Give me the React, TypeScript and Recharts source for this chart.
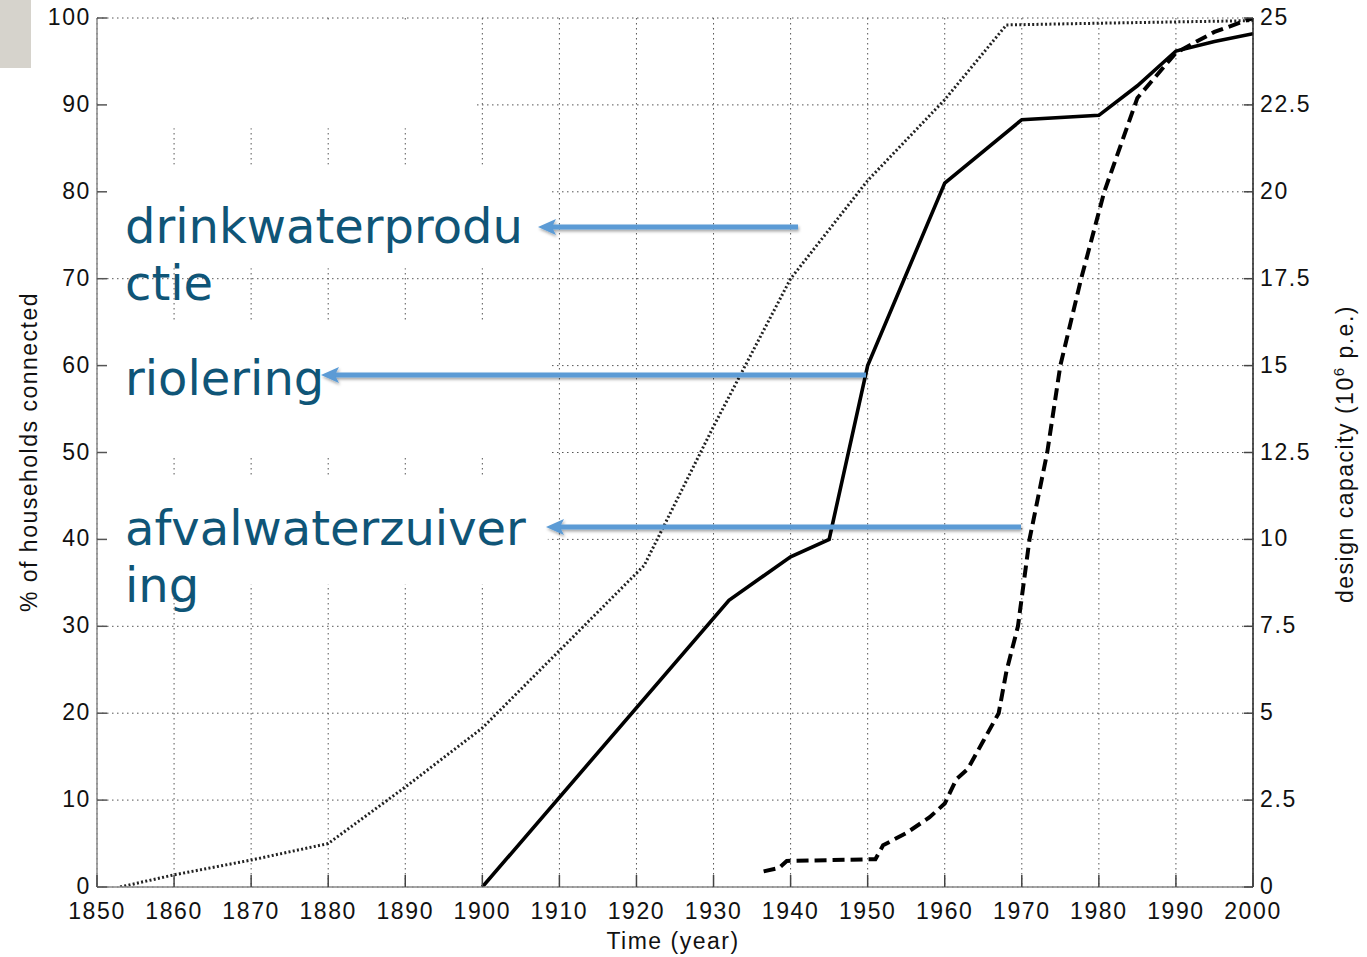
import React from 'react';
import { LineChart, Line, XAxis, YAxis, CartesianGrid, ReferenceArea } from 'recharts';

// ---- axis ticks ----
const yearTicks = [1850, 1860, 1870, 1880, 1890, 1900, 1910, 1920, 1930, 1940, 1950, 1960, 1970, 1980, 1990, 2000];
const leftTicks = [0, 10, 20, 30, 40, 50, 60, 70, 80, 90, 100];
const rightTicks = [0, 2.5, 5, 7.5, 10, 12.5, 15, 17.5, 20, 22.5, 25];

// ---- series: drinking water production (% households, dotted) ----
const drinkYears = [1853, 1860, 1870, 1880, 1890, 1900, 1910, 1921, 1930, 1940, 1950, 1960, 1968, 1980, 2000];
const drinkValues = [0, 1.4, 3.1, 5.0, 11.5, 18.3, 27.2, 37, 53, 70, 81.3, 90.6, 99.2, 99.4, 99.7];

// ---- series: sewerage (% households, solid) ----
const sewerYears = [1900, 1932, 1940, 1945, 1950, 1960, 1970, 1980, 1985, 1990, 1995, 2000];
const sewerValues = [0, 33, 38, 40, 60, 81, 88.3, 88.8, 92.2, 96.2, 97.3, 98.2];

// ---- series: wastewater treatment design capacity (10^6 p.e., dashed, right axis) ----
const wwtpYears = [1936.5, 1938.5, 1939.5, 1951, 1952, 1955, 1958, 1960, 1961.5, 1963, 1965, 1967, 1968, 1969.5, 1971, 1973.3, 1975, 1977.7, 1980.7, 1985, 1990, 1995, 2000];
const wwtpValues = [0.45, 0.55, 0.75, 0.8, 1.2, 1.55, 2.0, 2.4, 3.1, 3.4, 4.2, 5.0, 6.2, 7.5, 10, 12.5, 15, 17.5, 20, 22.7, 24, 24.6, 25];

// white boxes of the slide covering parts of the grid (in data units)
const masks = [
  { x1: 1850.3, x2: 1899.3, y1: 87.3, y2: 99.6 },
  { x1: 1850.3, x2: 1909.0, y1: 71.2, y2: 83.1 },
  { x1: 1850.3, x2: 1908.8, y1: 49.6, y2: 65.0 },
  { x1: 1850.3, x2: 1908.5, y1: 34.8, y2: 47.1 },
];

const drinkData = drinkYears.map((year, i) => ({ year, v: drinkValues[i] }));
const sewerData = sewerYears.map((year, i) => ({ year, v: sewerValues[i] }));
const wwtpData = wwtpYears.map((year, i) => ({ year, v: wwtpValues[i] }));

const tickFont = { fontFamily: '"Liberation Sans", Arial, sans-serif', fontSize: 23, letterSpacing: 1.6, fill: '#111' };

const XTick = (props: any) => {
  const { x, y, payload } = props;
  return (
    <g>
      <line x1={x} x2={x} y1={y} y2={y - 12} stroke="#444" strokeWidth={1.5} />
      <text x={x} y={y + 32} textAnchor="middle" style={tickFont}>{payload.value}</text>
    </g>
  );
};

const LeftTick = (props: any) => {
  const { x, y, payload } = props;
  return (
    <g>
      <line x1={x} x2={x + 10} y1={y} y2={y} stroke="#555" strokeWidth={1.5} />
      <text x={x - 6} y={y + 7} textAnchor="end" style={tickFont}>{payload.value}</text>
    </g>
  );
};

const RightTick = (props: any) => {
  const { x, y, payload } = props;
  return (
    <g>
      <line x1={x - 9} x2={x} y1={y} y2={y} stroke="#444" strokeWidth={1.5} />
      <text x={x + 7} y={y + 7} textAnchor="start" style={tickFont}>{payload.value}</text>
    </g>
  );
};

const annoFont = { fontFamily: '"DejaVu Sans", Verdana, sans-serif', fontSize: 48, fill: '#0f5577' };
const axisLabelFont = { fontFamily: '"Liberation Sans", Arial, sans-serif', fontSize: 23, letterSpacing: 1.5, fill: '#111' };

const Arrow = ({ tipX, tailX, y }: { tipX: number; tailX: number; y: number }) => (
  <g filter="url(#shadow)">
    <line x1={tailX} x2={tipX + 12} y1={y} y2={y} stroke="#5b9bd5" strokeWidth={5} />
    <polygon points={`${tipX},${y} ${tipX + 18},${y - 8} ${tipX + 14},${y} ${tipX + 18},${y + 8}`} fill="#5b9bd5" />
  </g>
);

export default function App() {
  return (
    <div style={{ position: 'absolute', left: 0, top: 0, width: 1367, height: 957, background: '#fff' }}>
      <LineChart width={1367} height={957} margin={{ top: 18, right: 0, bottom: 0, left: 0 }}>
        <CartesianGrid stroke="#555" strokeDasharray="1.5 3.5" strokeWidth={1} />
        <XAxis
          dataKey="year"
          type="number"
          domain={[1850, 2000]}
          ticks={yearTicks}
          interval={0}
          height={70}
          tickSize={0}
          tickMargin={0}
          tick={<XTick />}
          axisLine={{ stroke: '#888', strokeWidth: 1.5 }}
          tickLine={false}
          allowDataOverflow
        />
        <YAxis
          type="number"
          domain={[0, 100]}
          ticks={leftTicks}
          interval={0}
          width={97}
          tickSize={0}
          tickMargin={0}
          tick={<LeftTick />}
          axisLine={{ stroke: '#888', strokeWidth: 1.5 }}
          tickLine={false}
          allowDataOverflow
        />
        <YAxis
          yAxisId="right"
          orientation="right"
          type="number"
          domain={[0, 25]}
          ticks={rightTicks}
          interval={0}
          width={114}
          tickSize={0}
          tickMargin={0}
          tick={<RightTick />}
          axisLine={{ stroke: '#222', strokeWidth: 1.5 }}
          tickLine={false}
          allowDataOverflow
        />
        {masks.map((m, i) => (
          <ReferenceArea key={i} x1={m.x1} x2={m.x2} y1={m.y1} y2={m.y2} fill="#fff" fillOpacity={1} stroke="none" ifOverflow="visible" />
        ))}
        <Line data={drinkData} dataKey="v" type="linear" stroke="#222" strokeWidth={3} strokeDasharray="2 2.3" dot={false} activeDot={false} isAnimationActive={false} />
        <Line data={sewerData} dataKey="v" type="linear" stroke="#000" strokeWidth={3.6} dot={false} activeDot={false} isAnimationActive={false} />
        <Line data={wwtpData} yAxisId="right" dataKey="v" type="linear" stroke="#000" strokeWidth={4} strokeDasharray="12 6" dot={false} activeDot={false} isAnimationActive={false} />
      </LineChart>
      <svg width={1367} height={957} style={{ position: 'absolute', left: 0, top: 0, pointerEvents: 'none' }}>
        <defs>
          <filter id="shadow" x="-5%" y="-100%" width="110%" height="300%">
            <feDropShadow dx={1} dy={2} stdDeviation={1.5} floodColor="#000" floodOpacity={0.35} />
          </filter>
        </defs>
        <rect x={0} y={0} width={31} height={68} fill="#d6d3cc" />
        <text x={37} y={452} textAnchor="middle" transform="rotate(-90 37 452)" style={axisLabelFont}>% of households connected</text>
        <text x={673} y={949} textAnchor="middle" style={axisLabelFont}>Time (year)</text>
        <text x={1353} y={454} textAnchor="middle" transform="rotate(-90 1353 454)" style={axisLabelFont}>
          design capacity (10<tspan dy={-9} fontSize={15}>6</tspan><tspan dy={9}> p.e.)</tspan>
        </text>
        <text x={125} y={243} style={annoFont}>drinkwaterprodu</text>
        <text x={125} y={300} style={annoFont}>ctie</text>
        <text x={125} y={395} style={annoFont}>riolering</text>
        <text x={125} y={545} style={annoFont}>afvalwaterzuiver</text>
        <text x={125} y={602} style={annoFont}>ing</text>
        <Arrow tipX={538} tailX={798} y={227} />
        <Arrow tipX={321} tailX={866} y={375} />
        <Arrow tipX={546} tailX={1021} y={527} />
      </svg>
    </div>
  );
}
